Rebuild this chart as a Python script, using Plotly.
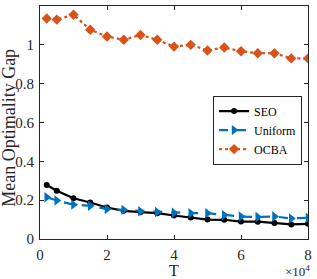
import plotly.graph_objects as go

T = [2000, 5000, 10000, 15000, 20000, 25000, 30000, 35000, 40000, 45000,
     50000, 55000, 60000, 65000, 70000, 75000, 80000]
seo = [0.278, 0.249, 0.210, 0.188, 0.162, 0.145, 0.138, 0.133, 0.121, 0.111,
       0.100, 0.099, 0.090, 0.089, 0.082, 0.075, 0.078]
uniform = [0.215, 0.198, 0.177, 0.171, 0.154, 0.150, 0.143, 0.139, 0.135, 0.133,
           0.133, 0.123, 0.116, 0.113, 0.116, 0.106, 0.109]
ocba = [1.136, 1.130, 1.155, 1.078, 1.043, 1.026, 1.051, 1.026, 0.991, 1.000,
        0.971, 0.986, 0.967, 0.957, 0.957, 0.930, 0.930]
xtick_vals = [0, 20000, 40000, 60000, 80000]
xtick_text = ["0", "2", "4", "6", "8"]
ytick_vals = [0, 0.2, 0.4, 0.6, 0.8, 1.0, 1.2]
ytick_text = ["0", "0.2", "0.4", "0.6", "0.8", "1", "1.2"]

font = "Liberation Serif"
txt = "#262626"
fig = go.Figure()
fig.add_trace(go.Scatter(x=T, y=seo, name="SEO", mode="lines+markers",
                         line=dict(color="#000000", width=2.2),
                         marker=dict(symbol="circle", size=6, color="#000000")))
fig.add_trace(go.Scatter(x=T, y=uniform, name="Uniform", mode="lines+markers",
                         line=dict(color="#0072BD", width=2.2, dash="dash"),
                         marker=dict(symbol="triangle-right", size=9, color="#0072BD")))
fig.add_trace(go.Scatter(x=T, y=ocba, name="OCBA", mode="lines+markers",
                         line=dict(color="#D95319", width=2.2, dash="dot"),
                         marker=dict(symbol="diamond", size=8, color="#D95319")))

axis_common = dict(showgrid=False, zeroline=False, showline=True, linecolor=txt,
                   linewidth=1, mirror="ticks", ticks="inside", ticklen=4,
                   tickcolor=txt, tickfont=dict(family=font, size=15, color=txt))
fig.update_xaxes(range=[0, 80000], tickvals=xtick_vals, ticktext=xtick_text,
                 ticklabelstandoff=2, **axis_common)
fig.update_yaxes(range=[0, 1.2], tickvals=ytick_vals, ticktext=ytick_text,
                 ticklabelstandoff=2, **axis_common)
fig.add_annotation(x=-31 / 272, y=0.479, xref="paper", yref="paper", textangle=-90,
                   showarrow=False, xanchor="center", yanchor="middle", borderpad=0,
                   text="Mean Optimality Gap", font=dict(family=font, size=18, color=txt))
fig.add_annotation(x=0.5, y=0, xref="paper", yref="paper", xanchor="center",
                   yanchor="middle", yshift=-31, showarrow=False, borderpad=0,
                   text="T", font=dict(family=font, size=16, color=txt))
fig.add_annotation(x=1.0, y=0, xref="paper", yref="paper", xanchor="right", yanchor="bottom",
                   yshift=-41, xshift=3, showarrow=False, borderpad=0,
                   text="×10<sup>4</sup>", font=dict(family=font, size=13, color=txt))
fig.update_layout(width=317, height=279, margin=dict(l=40, r=5, t=5, b=40),
                  plot_bgcolor="white", paper_bgcolor="white",
                  legend=dict(x=266 / 272, y=(239 - 95) / 234, xanchor="right", yanchor="top",
                              bgcolor="white", bordercolor=txt, borderwidth=1,
                              font=dict(family=font, size=12, color="#000000"),
                              tracegroupgap=0, itemwidth=30),
                  showlegend=True)
fig.write_html("out.html", config={"displayModeBar": False},
               post_script="document.body.style.margin='0';")
